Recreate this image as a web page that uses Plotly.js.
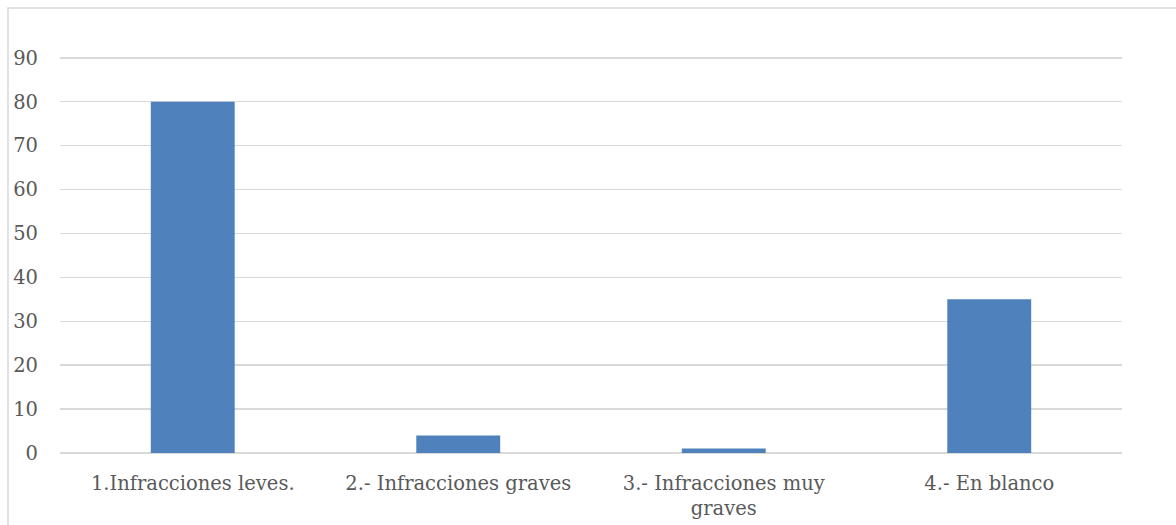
<!DOCTYPE html>
<html>
<head>
<meta charset="utf-8">
<script src="https://cdn.plot.ly/plotly-3.0.1.min.js"></script>
<style>html,body{margin:0;padding:0;background:#fff;}#chart{width:1176px;height:525px;}</style>
</head>
<body>
<div id="chart"></div>
<script>
var categories = ["1.Infracciones leves.", "2.- Infracciones graves", "3.- Infracciones muy<br>graves", "4.- En blanco"];
var values = [80, 4, 1, 35];
var yTicks = [0, 10, 20, 30, 40, 50, 60, 70, 80, 90];

var yMax = 92;
var plotL = 60, plotR = 1122, plotB = 453, W = 1176, H = 525;
var pxPerUnit = (453 - 58) / 90;
var plotT = Math.round(plotB - yMax * pxPerUnit);
var pw = plotR - plotL, ph = plotB - plotT;

var trace = {
  type: "bar",
  x: categories,
  y: values,
  marker: {color: "#4f81bd"},
  hoverinfo: "none"
};

var fontFam = "DejaVu Serif, serif";
var fs = 19.5;

var layout = {
  width: W, height: H,
  margin: {l: plotL, r: W - plotR, t: plotT, b: H - plotB, pad: 0},
  paper_bgcolor: "#ffffff",
  plot_bgcolor: "#ffffff",
  bargap: 0.684,
  showlegend: false,
  font: {family: fontFam, size: fs, color: "#595959"},
  xaxis: {
    type: "category",
    showgrid: false,
    zeroline: false,
    showline: false,
    ticks: "",
    tickangle: 0,
    ticklabelstandoff: 16,
    tickfont: {family: fontFam, size: fs, color: "#595959"}
  },
  yaxis: {
    range: [0, yMax],
    tickvals: yTicks,
    ticktext: yTicks.map(String),
    showgrid: true,
    gridcolor: "#d9d9d9",
    gridwidth: 1.5,
    zeroline: true,
    zerolinecolor: "#d9d9d9",
    zerolinewidth: 1.5,
    showline: false,
    ticks: "",
    ticklabelstandoff: 21,
    tickfont: {family: fontFam, size: fs, color: "#595959"}
  },
  shapes: [{
    type: "rect", xref: "paper", yref: "paper",
    x0: (8 - plotL) / pw, x1: (W + 20 - plotL) / pw,
    y0: -(H + 20 - plotB) / ph, y1: 1 + (plotT - 8) / ph,
    line: {color: "#d9d9d9", width: 1.5},
    fillcolor: "rgba(0,0,0,0)"
  }]
};

Plotly.newPlot("chart", [trace], layout, {displayModeBar: false, staticPlot: true});
</script>
</body>
</html>
